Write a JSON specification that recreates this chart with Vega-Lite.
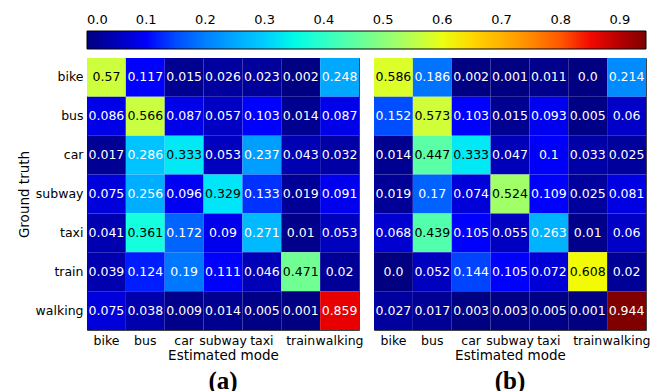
{
  "$schema": "https://vega.github.io/schema/vega-lite/v6.json",
  "background": "white",
  "padding": {"left": 17, "top": 31, "right": 4, "bottom": 0},
  "spacing": 9,
  "datasets": {
    "a": [
      {"truth": "bike", "pred": "bike", "v": 0.57, "t": "0.57"},
      {"truth": "bike", "pred": "bus", "v": 0.117, "t": "0.117"},
      {"truth": "bike", "pred": "car", "v": 0.015, "t": "0.015"},
      {"truth": "bike", "pred": "subway", "v": 0.026, "t": "0.026"},
      {"truth": "bike", "pred": "taxi", "v": 0.023, "t": "0.023"},
      {"truth": "bike", "pred": "train", "v": 0.002, "t": "0.002"},
      {"truth": "bike", "pred": "walking", "v": 0.248, "t": "0.248"},
      {"truth": "bus", "pred": "bike", "v": 0.086, "t": "0.086"},
      {"truth": "bus", "pred": "bus", "v": 0.566, "t": "0.566"},
      {"truth": "bus", "pred": "car", "v": 0.087, "t": "0.087"},
      {"truth": "bus", "pred": "subway", "v": 0.057, "t": "0.057"},
      {"truth": "bus", "pred": "taxi", "v": 0.103, "t": "0.103"},
      {"truth": "bus", "pred": "train", "v": 0.014, "t": "0.014"},
      {"truth": "bus", "pred": "walking", "v": 0.087, "t": "0.087"},
      {"truth": "car", "pred": "bike", "v": 0.017, "t": "0.017"},
      {"truth": "car", "pred": "bus", "v": 0.286, "t": "0.286"},
      {"truth": "car", "pred": "car", "v": 0.333, "t": "0.333"},
      {"truth": "car", "pred": "subway", "v": 0.053, "t": "0.053"},
      {"truth": "car", "pred": "taxi", "v": 0.237, "t": "0.237"},
      {"truth": "car", "pred": "train", "v": 0.043, "t": "0.043"},
      {"truth": "car", "pred": "walking", "v": 0.032, "t": "0.032"},
      {"truth": "subway", "pred": "bike", "v": 0.075, "t": "0.075"},
      {"truth": "subway", "pred": "bus", "v": 0.256, "t": "0.256"},
      {"truth": "subway", "pred": "car", "v": 0.096, "t": "0.096"},
      {"truth": "subway", "pred": "subway", "v": 0.329, "t": "0.329"},
      {"truth": "subway", "pred": "taxi", "v": 0.133, "t": "0.133"},
      {"truth": "subway", "pred": "train", "v": 0.019, "t": "0.019"},
      {"truth": "subway", "pred": "walking", "v": 0.091, "t": "0.091"},
      {"truth": "taxi", "pred": "bike", "v": 0.041, "t": "0.041"},
      {"truth": "taxi", "pred": "bus", "v": 0.361, "t": "0.361"},
      {"truth": "taxi", "pred": "car", "v": 0.172, "t": "0.172"},
      {"truth": "taxi", "pred": "subway", "v": 0.09, "t": "0.09"},
      {"truth": "taxi", "pred": "taxi", "v": 0.271, "t": "0.271"},
      {"truth": "taxi", "pred": "train", "v": 0.01, "t": "0.01"},
      {"truth": "taxi", "pred": "walking", "v": 0.053, "t": "0.053"},
      {"truth": "train", "pred": "bike", "v": 0.039, "t": "0.039"},
      {"truth": "train", "pred": "bus", "v": 0.124, "t": "0.124"},
      {"truth": "train", "pred": "car", "v": 0.19, "t": "0.19"},
      {"truth": "train", "pred": "subway", "v": 0.111, "t": "0.111"},
      {"truth": "train", "pred": "taxi", "v": 0.046, "t": "0.046"},
      {"truth": "train", "pred": "train", "v": 0.471, "t": "0.471"},
      {"truth": "train", "pred": "walking", "v": 0.02, "t": "0.02"},
      {"truth": "walking", "pred": "bike", "v": 0.075, "t": "0.075"},
      {"truth": "walking", "pred": "bus", "v": 0.038, "t": "0.038"},
      {"truth": "walking", "pred": "car", "v": 0.009, "t": "0.009"},
      {"truth": "walking", "pred": "subway", "v": 0.014, "t": "0.014"},
      {"truth": "walking", "pred": "taxi", "v": 0.005, "t": "0.005"},
      {"truth": "walking", "pred": "train", "v": 0.001, "t": "0.001"},
      {"truth": "walking", "pred": "walking", "v": 0.859, "t": "0.859"}
    ],
    "b": [
      {"truth": "bike", "pred": "bike", "v": 0.586, "t": "0.586"},
      {"truth": "bike", "pred": "bus", "v": 0.186, "t": "0.186"},
      {"truth": "bike", "pred": "car", "v": 0.002, "t": "0.002"},
      {"truth": "bike", "pred": "subway", "v": 0.001, "t": "0.001"},
      {"truth": "bike", "pred": "taxi", "v": 0.011, "t": "0.011"},
      {"truth": "bike", "pred": "train", "v": 0.0, "t": "0.0"},
      {"truth": "bike", "pred": "walking", "v": 0.214, "t": "0.214"},
      {"truth": "bus", "pred": "bike", "v": 0.152, "t": "0.152"},
      {"truth": "bus", "pred": "bus", "v": 0.573, "t": "0.573"},
      {"truth": "bus", "pred": "car", "v": 0.103, "t": "0.103"},
      {"truth": "bus", "pred": "subway", "v": 0.015, "t": "0.015"},
      {"truth": "bus", "pred": "taxi", "v": 0.093, "t": "0.093"},
      {"truth": "bus", "pred": "train", "v": 0.005, "t": "0.005"},
      {"truth": "bus", "pred": "walking", "v": 0.06, "t": "0.06"},
      {"truth": "car", "pred": "bike", "v": 0.014, "t": "0.014"},
      {"truth": "car", "pred": "bus", "v": 0.447, "t": "0.447"},
      {"truth": "car", "pred": "car", "v": 0.333, "t": "0.333"},
      {"truth": "car", "pred": "subway", "v": 0.047, "t": "0.047"},
      {"truth": "car", "pred": "taxi", "v": 0.1, "t": "0.1"},
      {"truth": "car", "pred": "train", "v": 0.033, "t": "0.033"},
      {"truth": "car", "pred": "walking", "v": 0.025, "t": "0.025"},
      {"truth": "subway", "pred": "bike", "v": 0.019, "t": "0.019"},
      {"truth": "subway", "pred": "bus", "v": 0.17, "t": "0.17"},
      {"truth": "subway", "pred": "car", "v": 0.074, "t": "0.074"},
      {"truth": "subway", "pred": "subway", "v": 0.524, "t": "0.524"},
      {"truth": "subway", "pred": "taxi", "v": 0.109, "t": "0.109"},
      {"truth": "subway", "pred": "train", "v": 0.025, "t": "0.025"},
      {"truth": "subway", "pred": "walking", "v": 0.081, "t": "0.081"},
      {"truth": "taxi", "pred": "bike", "v": 0.068, "t": "0.068"},
      {"truth": "taxi", "pred": "bus", "v": 0.439, "t": "0.439"},
      {"truth": "taxi", "pred": "car", "v": 0.105, "t": "0.105"},
      {"truth": "taxi", "pred": "subway", "v": 0.055, "t": "0.055"},
      {"truth": "taxi", "pred": "taxi", "v": 0.263, "t": "0.263"},
      {"truth": "taxi", "pred": "train", "v": 0.01, "t": "0.01"},
      {"truth": "taxi", "pred": "walking", "v": 0.06, "t": "0.06"},
      {"truth": "train", "pred": "bike", "v": 0.0, "t": "0.0"},
      {"truth": "train", "pred": "bus", "v": 0.052, "t": "0.052"},
      {"truth": "train", "pred": "car", "v": 0.144, "t": "0.144"},
      {"truth": "train", "pred": "subway", "v": 0.105, "t": "0.105"},
      {"truth": "train", "pred": "taxi", "v": 0.072, "t": "0.072"},
      {"truth": "train", "pred": "train", "v": 0.608, "t": "0.608"},
      {"truth": "train", "pred": "walking", "v": 0.02, "t": "0.02"},
      {"truth": "walking", "pred": "bike", "v": 0.027, "t": "0.027"},
      {"truth": "walking", "pred": "bus", "v": 0.017, "t": "0.017"},
      {"truth": "walking", "pred": "car", "v": 0.003, "t": "0.003"},
      {"truth": "walking", "pred": "subway", "v": 0.003, "t": "0.003"},
      {"truth": "walking", "pred": "taxi", "v": 0.005, "t": "0.005"},
      {"truth": "walking", "pred": "train", "v": 0.001, "t": "0.001"},
      {"truth": "walking", "pred": "walking", "v": 0.944, "t": "0.944"}
    ]
  },
  "hconcat": [
    {
      "width": 272,
      "height": 272,
      "data": {"name": "a"},
      "title": {"text": "(a)", "orient": "bottom", "font": "Liberation Serif", "fontSize": 25, "fontWeight": "bold", "color": "black", "offset": 7},
      "encoding": {
        "x": {"field": "pred", "type": "nominal", "sort": ["bike", "bus", "car", "subway", "taxi", "train", "walking"], "title": "Estimated mode", "axis": {"labelAngle": 0}},
        "y": {"field": "truth", "type": "nominal", "sort": ["bike", "bus", "car", "subway", "taxi", "train", "walking"], "title": "Ground truth"}
      },
      "layer": [
        {
          "mark": {"type": "rect"},
          "encoding": {
            "color": {
              "field": "v", "type": "quantitative",
              "scale": {"type": "linear", "domain": [0, 0.1038, 0.118, 0.321, 0.330, 0.354, 0.604, 0.614, 0.623, 0.840, 0.859, 0.944],
                "range": ["#000080", "#0000FF", "#0000FF", "#00DBFF", "#00E6F7", "#15FFE2", "#EEFF08", "#F7F500", "#FFEC00", "#FF1300", "#E80000", "#800000"]},
              "legend": {"orient": "none", "legendX": 0, "legendY": -27, "direction": "horizontal", "title": null, "gradientLength": 559, "gradientThickness": 18, "values": [0, 0.1, 0.2, 0.3, 0.4, 0.5, 0.6, 0.7, 0.8, 0.9], "format": ".1f", "labelAlign": "center", "labelBaseline": "top", "labelOffset": -35, "gradientStrokeColor": "black", "gradientStrokeWidth": 1, "labelFont": "DejaVu Sans", "labelFontSize": 13, "labelColor": "black"}
            }
          }
        },
        {
          "mark": {"type": "text", "font": "DejaVu Sans", "fontSize": 12.5},
          "encoding": {
            "text": {"field": "t", "type": "nominal"},
            "color": {"condition": {"test": "datum.v > 0.3 && datum.v < 0.8", "value": "black"}, "value": "white"}
          }
        }
      ]
    },
    {
      "width": 272,
      "height": 272,
      "data": {"name": "b"},
      "title": {"text": "(b)", "orient": "bottom", "font": "Liberation Serif", "fontSize": 25, "fontWeight": "bold", "color": "black", "offset": 7},
      "encoding": {
        "x": {"field": "pred", "type": "nominal", "sort": ["bike", "bus", "car", "subway", "taxi", "train", "walking"], "title": "Estimated mode", "axis": {"labelAngle": 0}},
        "y": {"field": "truth", "type": "nominal", "sort": ["bike", "bus", "car", "subway", "taxi", "train", "walking"], "axis": null}
      },
      "layer": [
        {
          "mark": {"type": "rect"},
          "encoding": {
            "color": {
              "field": "v", "type": "quantitative",
              "scale": {"type": "linear", "domain": [0, 0.1038, 0.118, 0.321, 0.330, 0.354, 0.604, 0.614, 0.623, 0.840, 0.859, 0.944],
                "range": ["#000080", "#0000FF", "#0000FF", "#00DBFF", "#00E6F7", "#15FFE2", "#EEFF08", "#F7F500", "#FFEC00", "#FF1300", "#E80000", "#800000"]},
              "legend": {"orient": "none", "legendX": 0, "legendY": -27, "direction": "horizontal", "title": null, "gradientLength": 559, "gradientThickness": 18, "values": [0, 0.1, 0.2, 0.3, 0.4, 0.5, 0.6, 0.7, 0.8, 0.9], "format": ".1f", "labelAlign": "center", "labelBaseline": "top", "labelOffset": -35, "gradientStrokeColor": "black", "gradientStrokeWidth": 1, "labelFont": "DejaVu Sans", "labelFontSize": 13, "labelColor": "black"}
            }
          }
        },
        {
          "mark": {"type": "text", "font": "DejaVu Sans", "fontSize": 12.5},
          "encoding": {
            "text": {"field": "t", "type": "nominal"},
            "color": {"condition": {"test": "datum.v > 0.3 && datum.v < 0.8", "value": "black"}, "value": "white"}
          }
        }
      ]
    }
  ],
  "resolve": {"scale": {"color": "shared"}},
  "config": {
    "view": {"stroke": "#444", "strokeWidth": 1},
    "axis": {"labelFont": "DejaVu Sans", "labelFontSize": 12.5, "labelColor": "black", "titleFont": "DejaVu Sans", "titleFontSize": 13.5, "titleFontWeight": "normal", "titleColor": "black", "domain": false, "ticks": false, "labelPadding": 4, "titlePadding": 2},
    "axisY": {"titlePadding": 3.5}
  }
}
